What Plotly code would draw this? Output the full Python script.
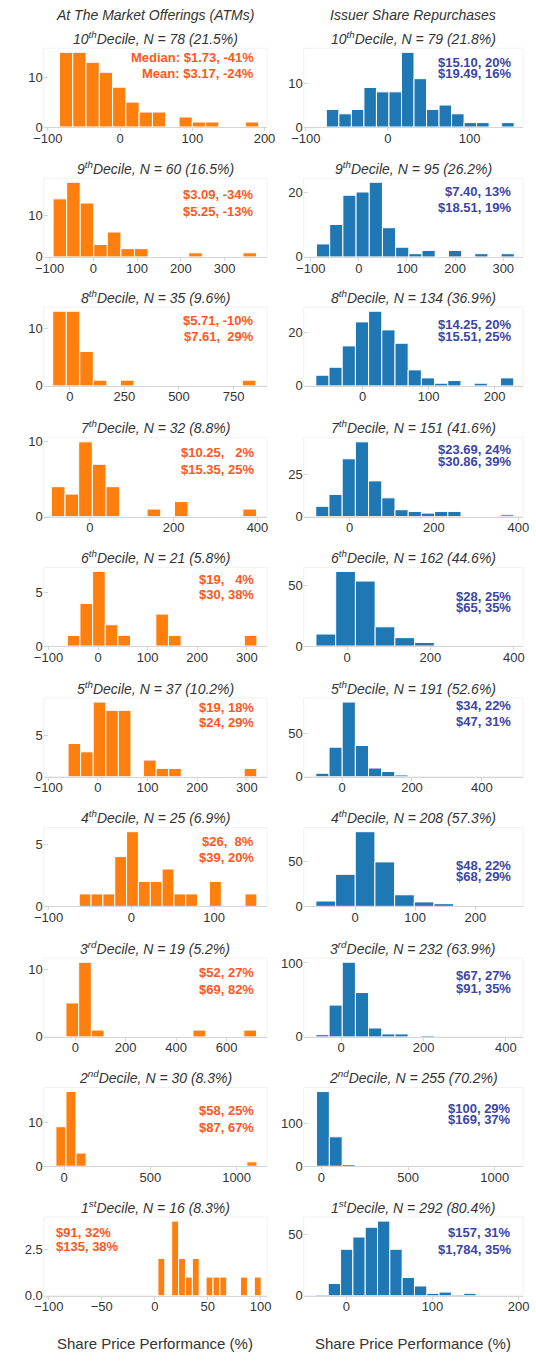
import plotly.graph_objects as go

# ---------------- data ----------------
DECILES = ["10<sup>th</sup>", "9<sup>th</sup>", "8<sup>th</sup>", "7<sup>th</sup>", "6<sup>th</sup>",
           "5<sup>th</sup>", "4<sup>th</sup>", "3<sup>rd</sup>", "2<sup>nd</sup>", "1<sup>st</sup>"]

ATM_N = [78, 60, 35, 32, 21, 37, 25, 19, 30, 16]
ATM_PCT = ["21.5%", "16.5%", "9.6%", "8.8%", "5.8%", "10.2%", "6.9%", "5.2%", "8.3%", "8.3%"]
BUY_N = [79, 95, 134, 151, 162, 191, 208, 232, 255, 292]
BUY_PCT = ["21.8%", "26.2%", "36.9%", "41.6%", "44.6%", "52.6%", "57.3%", "63.9%", "70.2%", "80.4%"]

NB = "\u00a0"
ATM_MEDIAN = ["Median: $1.73, -41%", "$3.09, -34%", "$5.71, -10%", "$10.25," + NB * 3 + "2%",
              "$19," + NB * 3 + "4%", "$19, 18%", "$26," + NB * 2 + "8%", "$52, 27%", "$58, 25%", "$91, 32%"]
ATM_MEAN = ["Mean: $3.17, -24%", "$5.25, -13%", "$7.61," + NB * 2 + "29%", "$15.35, 25%", "$30, 38%",
            "$24, 29%", "$39, 20%", "$69, 82%", "$87, 67%", "$135, 38%"]
BUY_MEDIAN = ["$15.10, 20%", "$7.40, 13%", "$14.25, 20%", "$23.69, 24%", "$28, 25%",
              "$34, 22%", "$48, 22%", "$67, 27%", "$100, 29%", "$157, 31%"]
BUY_MEAN = ["$19.49, 16%", "$18.51, 19%", "$15.51, 25%", "$30.86, 39%", "$65, 35%",
            "$47, 31%", "$68, 29%", "$91, 35%", "$169, 37%", "$1,784, 35%"]

# histogram bins: first bin edge, bin width, counts (share price performance, %)
ATM_START = [-84, -92, -78, -92, -62, -60, -63, -37, -48, 3]
ATM_WIDTH = [18.4, 31, 62, 32.65, 25.5, 25.33, 14.3, 50.4, 58.3, 6.5]
ATM_COUNTS = [
    [15, 15, 13, 11, 8, 5, 3, 3, 0, 2, 1, 1, 0, 0, 1],
    [14, 18, 13, 3, 6, 2, 2, 0, 0, 0, 1, 0, 0, 0, 1],
    [13, 13, 6, 1, 0, 1, 0, 0, 0, 0, 0, 0, 0, 0, 1],
    [4, 3, 10, 7, 4, 0, 0, 1, 0, 2, 0, 0, 0, 0, 1],
    [1, 4, 7, 2, 1, 0, 0, 3, 1, 0, 0, 0, 0, 0, 1],
    [4, 3, 9, 8, 8, 0, 2, 1, 1, 0, 0, 0, 0, 0, 1],
    [1, 1, 1, 4, 6, 2, 2, 3, 1, 1, 0, 2, 0, 0, 1],
    [5, 11, 1, 0, 0, 0, 0, 0, 0, 0, 1, 0, 0, 0, 1],
    [9, 17, 3, 0, 0, 0, 0, 0, 0, 0, 0, 0, 0, 0, 0, 0, 0, 0, 0, 1],
    [2, 0, 4, 2, 1, 2, 0, 1, 1, 1, 0, 0, 1, 0, 1],
]
BUY_START = [-75, -88, -71, -80, -74.5, -75.4, -65, -61.5, -28, -35.3]
BUY_WIDTH = [15.3, 27.4, 20, 31.3, 47.3, 37.7, 32.7, 32, 74, 14.3]
BUY_COUNTS = [
    [4, 3, 4, 9, 8, 8, 17, 11, 4, 5, 3, 1, 1, 0, 1],
    [4, 10, 19, 20, 23, 9, 3, 1, 2, 0, 2, 0, 1, 0, 1],
    [4, 7, 15, 24, 28, 21, 16, 6, 3, 1, 2, 0, 1, 0, 3],
    [6, 13, 34, 44, 21, 11, 4, 3, 2, 3, 3, 0, 0, 0, 1],
    [10, 62, 54, 16, 7, 3],
    [4, 34, 86, 36, 10, 6, 2],
    [6, 36, 84, 50, 13, 5, 3, 1],
    [3, 43, 101, 60, 12, 4, 4, 0, 2],
    [175, 69, 4],
    [1, 10, 38, 48, 56, 61, 38, 15, 8, 2, 3, 1, 2],
]

ATM_XTICKS = [[-100, 0, 100, 200], [-100, 0, 100, 200, 300], [0, 250, 500, 750], [0, 200, 400],
              [-100, 0, 100, 200, 300], [-100, 0, 100, 200, 300], [-100, 0, 100], [0, 200, 400, 600],
              [0, 500, 1000], [-100, -50, 0, 50, 100]]
BUY_XTICKS = [[-100, 0, 100], [-100, 0, 100, 200, 300], [0, 100, 200], [0, 200, 400], [0, 200, 400],
              [0, 200, 400], [0, 100, 200], [0, 200, 400], [0, 500, 1000], [0, 100, 200]]
ATM_YTICKS = [[0, 10], [0, 10], [0, 10], [0, 10], [0, 5], [0, 5], [0, 5], [0, 10], [0, 10], [0, 2.5]]
BUY_YTICKS = [[0, 10], [0, 20], [0, 20], [0, 25], [0, 50], [0, 50], [0, 50], [0, 100], [0, 100], [0, 50]]

# ---------------- layout constants ----------------
W, H = 536, 1361
ZERO_Y = [125, 256, 386, 517.7, 648.3, 780, 910.7, 1042.3, 1172.7, 1303.3]
PLOT_H = 79.4
COLS = [(33, 265), (303, 531)]
ATM_XRANGE = [[-105.7, 203.6], [-113.3, 397.2], [-119, 903.5], [-110, 423], [-109.5, 341],
              [-108.9, 340.8], [-105.8, 163.9], [-125, 761], [-118.4, 1177], [-104.8, 106.1]]
BUY_XRANGE = [[-102.7, 165.5], [-114.6, 341.4], [-89.4, 243.3], [-108.6, 411.6], [-103.9, 422.3],
              [-110.3, 518.6], [-85.3, 279.5], [-91.2, 442.1], [-102, 1164], [-49.5, 205.3]]
ATM_ANN_Y = [(55, 71), (193.3, 210.7), (320, 336.7), (453.3, 470), (581.7, 596.7), (710, 725),
             (845, 861), (977.7, 994.3), (1116.7, 1133.3), (1240, 1253.3)]
BUY_ANN_Y = [(60, 71), (190, 205.7), (324, 336.7), (450, 462.7), (598.3, 609), (708.3, 724.3),
             (869.3, 880.7), (980, 993.3), (1115, 1126), (1240, 1256.7)]

FONT = "Liberation Sans, Arial, sans-serif"
TXT = "#333333"
AXC = "#d6d6d6"
BAR_COLORS = ["#ff7f0e", "#1f77b4"]
ANN_COLORS = ["#ff5722", "#3b45a6"]


def px(x):
    return x / W


def py(y):
    return 1 - y / H


fig = go.Figure()
layout = {}
annotations = []
shapes = []

k = 0
for col in range(2):
    starts = [ATM_START, BUY_START][col]
    widths = [ATM_WIDTH, BUY_WIDTH][col]
    counts_all = [ATM_COUNTS, BUY_COUNTS][col]
    xticks = [ATM_XTICKS, BUY_XTICKS][col]
    yticks = [ATM_YTICKS, BUY_YTICKS][col]
    xranges = [ATM_XRANGE, BUY_XRANGE][col]
    ns = [ATM_N, BUY_N][col]
    pcts = [ATM_PCT, BUY_PCT][col]
    meds = [ATM_MEDIAN, BUY_MEDIAN][col]
    means = [ATM_MEAN, BUY_MEAN][col]
    ann_y = [ATM_ANN_Y, BUY_ANN_Y][col]
    x0, x1 = COLS[col]
    for r in range(10):
        k += 1
        sfx = "" if k == 1 else str(k)
        counts = counts_all[r]
        w = widths[r]
        centers = [starts[r] + w * (i + 0.5) for i in range(len(counts))]
        fig.add_trace(go.Bar(
            x=centers, y=counts, width=[w] * len(counts),
            marker=dict(color=BAR_COLORS[col], line=dict(color="white", width=1)),
            xaxis="x" + sfx, yaxis="y" + sfx, showlegend=False, hoverinfo="x+y"))
        z = ZERO_Y[r]
        top = z - PLOT_H
        ymax = max(counts) * 1.055
        yt = yticks[r]
        ytext = ["0.0", "2.5"] if yt == [0, 2.5] else [str(v) for v in yt]
        layout["xaxis" + sfx] = dict(
            domain=[px(x0), px(x1)], range=xranges[r], anchor="y" + sfx,
            tickvals=xticks[r], showline=True, linecolor=AXC, linewidth=1,
            ticks="outside", ticklen=3, tickcolor=AXC, showgrid=False, zeroline=False,
            ticklabelstandoff=-4,
            tickfont=dict(size=13, color=TXT, family=FONT), fixedrange=True)
        layout["yaxis" + sfx] = dict(
            domain=[py(z), py(top)], range=[0, ymax], anchor="x" + sfx,
            tickvals=yt, ticktext=ytext, showline=False, ticks="inside", ticklen=4,
            tickcolor=AXC, showgrid=False, zeroline=False,
            tickfont=dict(size=13, color=TXT, family=FONT), fixedrange=True)
        # faint frame
        shapes.append(dict(type="rect", xref="x" + sfx + " domain", yref="y" + sfx + " domain",
                           x0=0, x1=1, y0=0, y1=1, line=dict(color="#f1f1f1", width=1),
                           layer="below"))
        # subtitle
        annotations.append(dict(
            x=px((x0 + x1) / 2), y=py(top - 10.5), xref="paper", yref="paper",
            text="<i>%sDecile, N = %d (%s)</i>" % (DECILES[r], ns[r], pcts[r]),
            showarrow=False, xanchor="center", yanchor="middle",
            font=dict(size=14, color=TXT, family=FONT)))
        # median / mean texts
        if col == 0 and r == 9:
            ax, anchor = 43.3, "left"
        else:
            ax, anchor = (253.3 if col == 0 else 520), "right"
        for txt, yy in zip([meds[r], means[r]], ann_y[r]):
            annotations.append(dict(
                x=px(ax), y=py(yy), xref="paper", yref="paper", text="<b>%s</b>" % txt,
                showarrow=False, xanchor=anchor, yanchor="middle",
                font=dict(size=13, color=ANN_COLORS[col], family=FONT)))

# column headers and x titles
for col, head in enumerate(["At The Market Offerings (ATMs)", "Issuer Share Repurchases"]):
    cx = px(sum(COLS[col]) / 2)
    annotations.append(dict(x=cx, y=py(12.5), xref="paper", yref="paper", text="<i>%s</i>" % head,
                            showarrow=False, xanchor="center", yanchor="middle",
                            font=dict(size=14, color=TXT, family=FONT)))
    annotations.append(dict(x=cx, y=py(1351), xref="paper", yref="paper",
                            text="Share Price Performance (%)",
                            showarrow=False, xanchor="center", yanchor="middle",
                            font=dict(size=15, color=TXT, family=FONT)))

fig.update_layout(
    width=W, height=H, margin=dict(l=0, r=0, t=0, b=0),
    paper_bgcolor="white", plot_bgcolor="white",
    font=dict(family=FONT, color=TXT), showlegend=False,
    annotations=annotations, shapes=shapes, barmode="overlay",
    **layout)

fig.write_html(
    "out.html", config={"displayModeBar": False},
    post_script="document.body.style.margin='0';document.body.style.overflow='hidden';")
